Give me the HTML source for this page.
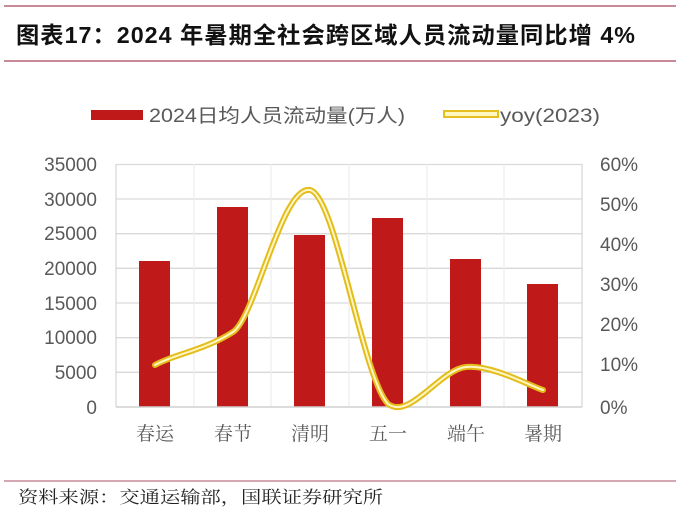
<!DOCTYPE html>
<html><head><meta charset="utf-8"><style>
body{margin:0;background:#fff;width:680px;height:511px;overflow:hidden}
</style></head><body>
<svg width="680" height="511" viewBox="0 0 680 511" xmlns="http://www.w3.org/2000/svg">
<rect width="680" height="511" fill="#fff"/>
<line x1="4" y1="6" x2="676" y2="6" stroke="#c98a98" stroke-width="2"/>
<line x1="4" y1="61" x2="676" y2="61" stroke="#c98a98" stroke-width="2"/>
<text x="16" y="43" font-family="Liberation Sans, Noto Sans CJK SC, sans-serif" font-size="23" font-weight="bold" letter-spacing="1" fill="#111" textLength="620" lengthAdjust="spacingAndGlyphs">图表17：2024 年暑期全社会跨区域人员流动量同比增 4%</text>
<rect x="91" y="110" width="52" height="10" fill="#c0191a"/>
<text x="149" y="122" font-family="Liberation Sans, Noto Sans CJK SC, sans-serif" font-size="19" fill="#595959" textLength="256" lengthAdjust="spacingAndGlyphs">2024日均人员流动量(万人)</text>
<rect x="444" y="111" width="54" height="6" fill="#fff7c0" stroke="#e6c020" stroke-width="2"/>
<text x="500" y="122" font-family="Liberation Sans, sans-serif" font-size="19" fill="#595959" textLength="100" lengthAdjust="spacingAndGlyphs">yoy(2023)</text>
<g stroke="#d9d9d9" stroke-width="1.3">
<line x1="116" y1="164.5" x2="582" y2="164.5"/><line x1="116" y1="199" x2="582" y2="199"/><line x1="116" y1="233.7" x2="582" y2="233.7"/><line x1="116" y1="268.3" x2="582" y2="268.3"/><line x1="116" y1="303" x2="582" y2="303"/><line x1="116" y1="337.7" x2="582" y2="337.7"/><line x1="116" y1="372.3" x2="582" y2="372.3"/>
<line x1="116" y1="164" x2="116" y2="407"/><line x1="194" y1="164" x2="194" y2="407" stroke="#eee"/><line x1="271" y1="164" x2="271" y2="407" stroke="#eee"/><line x1="349" y1="164" x2="349" y2="407" stroke="#eee"/><line x1="427" y1="164" x2="427" y2="407" stroke="#eee"/><line x1="504" y1="164" x2="504" y2="407" stroke="#eee"/><line x1="582" y1="164" x2="582" y2="407"/>
</g>
<g fill="#c0191a">
<rect x="139" y="261" width="31" height="146"/>
<rect x="217" y="207" width="31" height="200"/>
<rect x="294" y="235" width="31" height="172"/>
<rect x="372" y="218" width="31" height="189"/>
<rect x="450" y="259" width="31" height="148"/>
<rect x="527" y="284" width="31" height="123"/>
</g>
<line x1="116" y1="407" x2="582" y2="407" stroke="#d0d0d0" stroke-width="1.5"/>
<g fill="none" stroke-linecap="round">
<path d="M155,365 C175,354 205,350 233,332 C255,318 282,185 310,190 C336,196 362,376 388,404 C410,420 440,369.5 466,367 C492,364.5 530,386 543,390" stroke="#e3bd1c" stroke-width="6"/>
<path d="M155,365 C175,354 205,350 233,332 C255,318 282,185 310,190 C336,196 362,376 388,404 C410,420 440,369.5 466,367 C492,364.5 530,386 543,390" stroke="#fff6c4" stroke-width="2"/>
</g>
<g font-family="Liberation Sans, sans-serif" font-size="19" fill="#595959" text-anchor="end">
<text x="97" y="171">35000</text><text x="97" y="206">30000</text><text x="97" y="240">25000</text><text x="97" y="275">20000</text><text x="97" y="310">15000</text><text x="97" y="344">10000</text><text x="97" y="379">5000</text><text x="97" y="414">0</text>
</g>
<g font-family="Liberation Sans, sans-serif" font-size="19" fill="#595959">
<text x="600" y="171">60%</text><text x="600" y="211">50%</text><text x="600" y="251">40%</text><text x="600" y="291">30%</text><text x="600" y="331">20%</text><text x="600" y="371">10%</text><text x="600" y="414">0%</text>
</g>
<g font-family="Noto Serif CJK SC, serif" font-size="19" fill="#595959" text-anchor="middle">
<text x="155" y="440">春运</text><text x="233" y="440">春节</text><text x="310" y="440">清明</text><text x="388" y="440">五一</text><text x="466" y="440">端午</text><text x="543" y="440">暑期</text>
</g>
<line x1="4" y1="481" x2="676" y2="481" stroke="#c98a98" stroke-width="1.5"/>
<text x="18" y="503" font-family="Noto Serif CJK SC, serif" font-size="17" fill="#222" textLength="365" lengthAdjust="spacingAndGlyphs">资料来源：交通运输部，国联证券研究所</text>
</svg>
</body></html>
